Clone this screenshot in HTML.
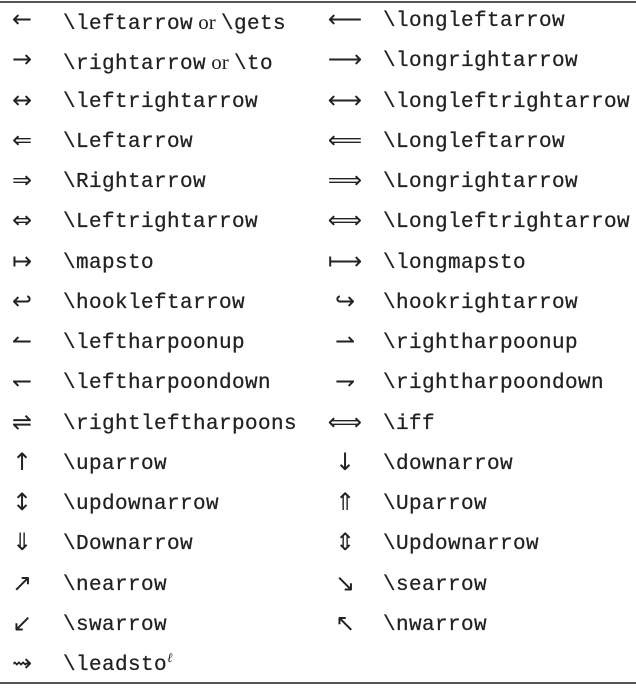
<!DOCTYPE html>
<html><head><meta charset="utf-8"><style>
body{margin:0;width:636px;height:689px;background:#fff;position:relative;overflow:hidden;color:#222}
.l{position:absolute;left:0;width:636px;height:2px;background:#555}
.r{position:absolute;left:0;width:636px;height:40px;line-height:40px}
.s{position:absolute;top:-3px;width:44px;text-align:center;font-family:"DejaVu Sans",serif;font-size:24px}
.t{position:absolute;font-family:"Liberation Mono",monospace;font-size:21px;letter-spacing:0.4px;-webkit-text-stroke:0.25px #222}
.o{font-family:"Liberation Serif",serif;letter-spacing:0;font-size:21px;-webkit-text-stroke:0}
</style></head><body>
<div class="l" style="top:1px"></div>
<div class="l" style="top:682px"></div>
<div id="c"></div>
<script>
var rows=[
["←","\\leftarrow<span class='o'> or </span>\\gets","⟵","\\longleftarrow"],
["→","\\rightarrow<span class='o'> or </span>\\to","⟶","\\longrightarrow"],
["↔","\\leftrightarrow","⟷","\\longleftrightarrow"],
["⇐","\\Leftarrow","⟸","\\Longleftarrow"],
["⇒","\\Rightarrow","⟹","\\Longrightarrow"],
["⇔","\\Leftrightarrow","⟺","\\Longleftrightarrow"],
["↦","\\mapsto","⟼","\\longmapsto"],
["↩","\\hookleftarrow","↪","\\hookrightarrow"],
["↼","\\leftharpoonup","⇀","\\rightharpoonup"],
["↽","\\leftharpoondown","⇁","\\rightharpoondown"],
["⇌","\\rightleftharpoons","⟺","\\iff"],
["↑","\\uparrow","↓","\\downarrow"],
["↕","\\updownarrow","⇑","\\Uparrow"],
["⇓","\\Downarrow","⇕","\\Updownarrow"],
["↗","\\nearrow","↘","\\searrow"],
["↙","\\swarrow","↖","\\nwarrow"],
["⇝","\\leadsto<sup style='font-family:Liberation Serif;font-style:italic;font-size:13px;line-height:0;-webkit-text-stroke:0'>ℓ</sup>","",""]
];
var h="";
rows.forEach(function(r,i){
var top=2+i*40.25;
h+="<div class='r' style='top:"+top+"px'><span class='s' style='left:0'>"+r[0]+"</span><span class='t' style='left:63px'>"+r[1]+"</span><span class='s' style='left:323px'>"+r[2]+"</span><span class='t' style='left:383px'>"+r[3]+"</span></div>";
});
document.getElementById("c").innerHTML=h;
</script>
</body></html>
